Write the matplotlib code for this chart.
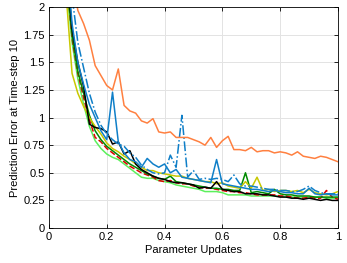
import numpy as np
import matplotlib
matplotlib.use("Agg")
import matplotlib.pyplot as plt

plt.rcParams['font.family'] = ['Liberation Sans', 'DejaVu Sans']

# x positions of the samples (parameter updates, normalised)
updates = [0.06, 0.08, 0.10, 0.12, 0.14, 0.16, 0.18, 0.20, 0.22, 0.24,
           0.26, 0.28, 0.30, 0.32, 0.34, 0.36, 0.38, 0.40, 0.42, 0.44,
           0.46, 0.48, 0.50, 0.52, 0.54, 0.56, 0.58, 0.60, 0.62, 0.64,
           0.66, 0.68, 0.70, 0.72, 0.74, 0.76, 0.78, 0.80, 0.82, 0.84,
           0.86, 0.88, 0.90, 0.92, 0.94, 0.96, 0.98, 1.00]

orange = [2.8, 2.3, 1.97, 1.85, 1.70, 1.47, 1.38, 1.29, 1.25, 1.44,
          1.11, 1.06, 1.04, 0.97, 0.95, 0.99, 0.87, 0.86, 0.87, 0.82,
          0.82, 0.82, 0.80, 0.78, 0.75, 0.82, 0.73, 0.79, 0.83, 0.71,
          0.71, 0.70, 0.73, 0.69, 0.70, 0.70, 0.68, 0.69, 0.68, 0.66,
          0.69, 0.65, 0.64, 0.63, 0.65, 0.64, 0.62, 0.60]

light_green = [2.2, 1.68, 1.35, 1.12, 0.92, 0.79, 0.72, 0.67, 0.64, 0.62,
               0.58, 0.54, 0.50, 0.46, 0.45, 0.45, 0.43, 0.42, 0.41, 0.39,
               0.38, 0.37, 0.36, 0.35, 0.33, 0.33, 0.33, 0.32, 0.30, 0.30,
               0.30, 0.30, 0.29, 0.29, 0.29, 0.29, 0.29, 0.29, 0.28, 0.28,
               0.28, 0.28, 0.28, 0.28, 0.28, 0.27, 0.27, 0.27]

red = [2.3, 1.72, 1.40, 1.18, 0.98, 0.82, 0.78, 0.72, 0.68, 0.64,
       0.60, 0.56, 0.53, 0.50, 0.48, 0.46, 0.43, 0.42, 0.43, 0.41,
       0.40, 0.40, 0.38, 0.37, 0.36, 0.36, 0.35, 0.34, 0.33, 0.33,
       0.32, 0.32, 0.31, 0.30, 0.30, 0.30, 0.30, 0.29, 0.29, 0.28,
       0.27, 0.27, 0.28, 0.27, 0.27, 0.34, 0.28, 0.26]

dark_green = [2.3, 1.75, 1.42, 1.22, 1.02, 0.88, 0.80, 0.74, 0.70, 0.66,
              0.62, 0.58, 0.55, 0.52, 0.49, 0.47, 0.45, 0.44, 0.47, 0.42,
              0.41, 0.40, 0.39, 0.38, 0.37, 0.36, 0.36, 0.35, 0.35, 0.34,
              0.34, 0.50, 0.32, 0.33, 0.32, 0.31, 0.35, 0.31, 0.30, 0.30,
              0.29, 0.29, 0.29, 0.28, 0.28, 0.28, 0.28, 0.28]

yellow = [2.1, 1.40, 1.22, 1.10, 1.00, 0.92, 0.85, 0.77, 0.72, 0.69,
          0.65, 0.62, 0.58, 0.55, 0.52, 0.52, 0.50, 0.49, 0.48, 0.47,
          0.47, 0.45, 0.44, 0.43, 0.42, 0.42, 0.40, 0.41, 0.38, 0.37,
          0.36, 0.42, 0.36, 0.46, 0.34, 0.35, 0.33, 0.34, 0.34, 0.33,
          0.34, 0.32, 0.35, 0.32, 0.31, 0.30, 0.31, 0.33]

black = [2.4, 1.8, 1.5, 1.28, 0.94, 0.91, 0.90, 0.87, 0.76, 0.78,
         0.67, 0.70, 0.58, 0.53, 0.50, 0.47, 0.45, 0.44, 0.42, 0.41,
         0.41, 0.40, 0.39, 0.36, 0.37, 0.36, 0.42, 0.35, 0.34, 0.33,
         0.33, 0.31, 0.31, 0.31, 0.30, 0.30, 0.29, 0.28, 0.28, 0.27,
         0.27, 0.26, 0.27, 0.26, 0.25, 0.26, 0.25, 0.25]

blue = [2.5, 1.85, 1.5, 1.30, 1.12, 1.00, 0.88, 0.80, 1.23, 0.78,
        0.68, 0.62, 0.60, 0.55, 0.63, 0.58, 0.55, 0.58, 0.50, 0.53,
        0.46, 0.45, 0.44, 0.43, 0.42, 0.41, 0.62, 0.40, 0.39, 0.38,
        0.37, 0.36, 0.35, 0.35, 0.34, 0.33, 0.34, 0.33, 0.32, 0.32,
        0.31, 0.31, 0.36, 0.31, 0.30, 0.31, 0.30, 0.30]

blue_dashdot = [2.8, 2.1, 1.68, 1.45, 1.22, 1.05, 0.93, 0.85, 0.80, 0.76,
                0.74, 0.68, 0.64, 0.57, 0.53, 0.50, 0.49, 0.50, 0.66, 0.55,
                1.02, 0.46, 0.52, 0.44, 0.45, 0.44, 0.45, 0.44, 0.42, 0.48,
                0.40, 0.38, 0.38, 0.37, 0.36, 0.35, 0.35, 0.34, 0.34, 0.33,
                0.33, 0.35, 0.38, 0.34, 0.32, 0.31, 0.31, 0.31]

series = [
    (light_green, "#5cf05c", "-"),
    (red, "#dd0000", "--"),
    (dark_green, "#008a00", "-"),
    (yellow, "#c8c800", "-"),
    (black, "black", "-"),
    (blue, "#0f7fc8", "-"),
    (blue_dashdot, "#0f7fc8", "-."),
    (orange, "#ff8040", "-"),
]

fig = plt.figure(figsize=(3.47, 2.63), dpi=100)
ax = fig.add_axes([0.141, 0.133, 0.833, 0.840])

for vals, col, ls in series:
    ax.plot(updates, vals, color=col, ls=ls, lw=1.1)

ax.set_xlim(0, 1)
ax.set_ylim(0, 2)
ax.set_xticks([0, 0.2, 0.4, 0.6, 0.8, 1])
ax.set_xticklabels(["0", "0.2", "0.4", "0.6", "0.8", "1"])
ax.set_yticks([0, 0.25, 0.5, 0.75, 1, 1.25, 1.5, 1.75, 2])
ax.set_yticklabels(["0", "0.25", "0.5", "0.75", "1", "1.25", "1.5", "1.75", "2"])
ax.grid(True, color="#e3e3e3", lw=0.7)
ax.set_axisbelow(True)
ax.tick_params(direction="in", top=True, right=True, length=3, width=0.6,
               labelsize=8, pad=3)
for s in ax.spines.values():
    s.set_linewidth(0.6)

ax.set_xlabel("Parameter Updates", fontsize=8, labelpad=2)
ax.set_ylabel("Prediction Error at Time-step 10", fontsize=8, labelpad=2)

fig.savefig("out.png", dpi=100)
